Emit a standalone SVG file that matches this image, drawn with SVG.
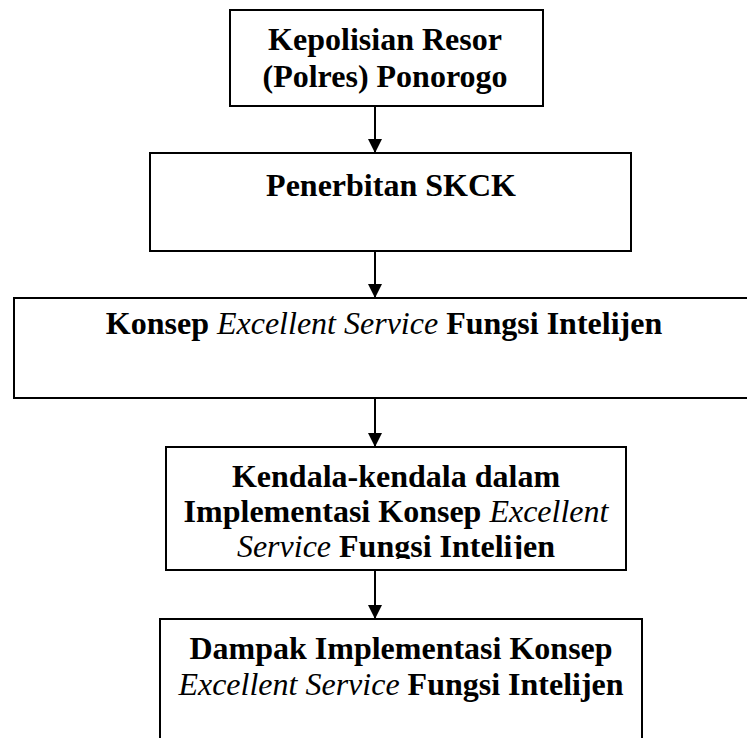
<svg xmlns="http://www.w3.org/2000/svg" width="747" height="738" viewBox="0 0 747 738">
<style>
.box{fill:#fff;stroke:#000;stroke-width:2}
.t{font-family:"Liberation Serif","Times New Roman",serif;font-size:32px;font-weight:bold;fill:#000;text-anchor:middle}
.i{font-style:italic;font-weight:normal}
.c{stroke:#000;stroke-width:2;fill:none}
</style>
<defs>
<marker id="ah" markerWidth="14" markerHeight="14" refX="14" refY="7" orient="auto" markerUnits="userSpaceOnUse" viewBox="0 0 14 14">
<path d="M0,0 L14,7 L0,14 Z" fill="#000"/>
</marker>
<clipPath id="clip4"><rect x="166" y="447" width="460" height="112"/></clipPath>
</defs>
<rect width="747" height="738" fill="#fff"/>
<g id="connectors">
<line class="c" x1="375" y1="106" x2="375" y2="153" marker-end="url(#ah)"/>
<line class="c" x1="375" y1="251" x2="375" y2="298" marker-end="url(#ah)"/>
<line class="c" x1="375" y1="398" x2="375" y2="447" marker-end="url(#ah)"/>
<line class="c" x1="375" y1="570" x2="375" y2="619" marker-end="url(#ah)"/>
</g>
<g id="node1">
<rect class="box" x="230" y="10" width="313" height="96"/>
<text class="t" x="385" y="50">Kepolisian Resor</text>
<text class="t" x="385" y="87">(Polres) Ponorogo</text>
</g>
<g id="node2">
<rect class="box" x="150" y="153" width="481" height="98"/>
<text class="t" x="391" y="196">Penerbitan SKCK</text>
</g>
<g id="node3">
<rect class="box" x="14" y="298" width="740" height="100"/>
<text class="t" x="384" y="334">Konsep <tspan class="i">Excellent Service</tspan> Fungsi Intelijen</text>
</g>
<g id="node4">
<rect class="box" x="166" y="447" width="460" height="123"/>
<g clip-path="url(#clip4)">
<text class="t" x="396" y="487">Kendala-kendala dalam</text>
<text class="t" x="396" y="522">Implementasi Konsep <tspan class="i">Excellent</tspan></text>
<text class="t" x="396" y="557"><tspan class="i">Service</tspan> Fungsi Intelijen</text>
</g>
</g>
<g id="node5">
<rect class="box" x="160" y="619" width="482" height="140"/>
<text class="t" x="401" y="659">Dampak Implementasi Konsep</text>
<text class="t" x="401" y="695"><tspan class="i">Excellent Service</tspan> Fungsi Intelijen</text>
</g>
</svg>
